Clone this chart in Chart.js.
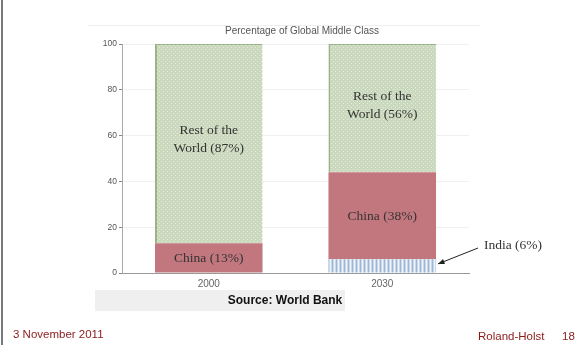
<!DOCTYPE html>
<html>
<head>
<meta charset="utf-8">
<script src="https://cdn.jsdelivr.net/npm/chart.js@4"></script>
<style>
  html, body { margin: 0; padding: 0; background: #fff; }
  #wrap { position: relative; width: 579px; height: 360px; }
</style>
</head>
<body>
<div id="wrap"><canvas id="chart" width="579" height="360"></canvas></div>
<script>
// donnees
const annees = ['2000', '2030'];
const inde = [0, 6];
const chine = [13, 38];
const resteMonde = [87, 56];
const etiquettesChine = ['China (13%)', 'China (38%)'];
const etiquettesReste = [['Rest of the', 'World (87%)'], ['Rest of the', 'World (56%)']];
const graduationsY = [0, 20, 40, 60, 80, 100];

// motifs de remplissage
function motifPoints() {
    const c = document.createElement('canvas');
    c.width = 4; c.height = 4;
    const g = c.getContext('2d');
    g.fillStyle = '#cad8bd';
    g.fillRect(0, 0, 4, 4);
    g.fillStyle = '#e4ecdc';
    g.fillRect(1, 1, 1, 1);
    g.fillRect(3, 3, 1, 1);
    return g.createPattern(c, 'repeat');
}
function motifRayures() {
    const c = document.createElement('canvas');
    c.width = 4; c.height = 4;
    const g = c.getContext('2d');
    g.fillStyle = '#c9d8ea';
    g.fillRect(0, 0, 4, 4);
    g.fillStyle = '#9fb6d2';
    g.fillRect(0, 0, 1, 4);
    g.fillStyle = '#eef3f9';
    g.fillRect(2, 0, 1, 4);
    return g.createPattern(c, 'repeat');
}

// textes et decor autour du graphique
const decor = {
    id: 'decor',
    beforeDraw(chart) {
        const ctx = chart.ctx;
        ctx.save();
        ctx.fillStyle = '#fff';
        ctx.fillRect(0, 0, 579, 360);
        // ligne verticale gauche
        ctx.fillStyle = '#7a7a7a';
        ctx.fillRect(1, 0, 2, 345);
        // cadre haut
        ctx.fillStyle = '#eeeeee';
        ctx.fillRect(88, 25, 392, 1);
        // bandeau source
        ctx.fillStyle = '#efefef';
        ctx.fillRect(95, 290, 250, 21);
        ctx.restore();
    },
    afterDatasetsDraw(chart) {
        const ctx = chart.ctx;
        ctx.save();
        ctx.textAlign = 'center';
        ctx.textBaseline = 'middle';
        ctx.fillStyle = '#555';
        ctx.font = '10px "Liberation Sans", Arial, sans-serif';
        ctx.fillText('Percentage of Global Middle Class', 302, 31);

        // etiquettes des barres
        ctx.fillStyle = '#333';
        ctx.font = '13.5px "Liberation Serif", "Times New Roman", serif';
        const mChine = chart.getDatasetMeta(1).data;
        const mReste = chart.getDatasetMeta(2).data;
        mChine.forEach((b, i) => {
            ctx.fillText(etiquettesChine[i], b.x, (b.y + b.base) / 2 + 1);
        });
        mReste.forEach((b, i) => {
            const cy = i === 0 ? 139 : 105;
            ctx.fillText(etiquettesReste[i][0], b.x, cy - 9);
            ctx.fillText(etiquettesReste[i][1], b.x, cy + 9);
        });

        // annotation Inde avec fleche
        const bInde = chart.getDatasetMeta(0).data[1];
        ctx.textAlign = 'left';
        ctx.font = '13.5px "Liberation Serif", "Times New Roman", serif';
        ctx.fillText('India (' + inde[1] + '%)', 484, 245);
        const x2 = bInde.x + bInde.width / 2 + 2, y2 = (bInde.y + bInde.base) / 2 - 2;
        const x1 = 478, y1 = 248;
        ctx.strokeStyle = '#222';
        ctx.lineWidth = 1;
        ctx.beginPath();
        ctx.moveTo(x1, y1);
        ctx.lineTo(x2, y2);
        ctx.stroke();
        const ang = Math.atan2(y2 - y1, x2 - x1);
        ctx.fillStyle = '#222';
        ctx.beginPath();
        ctx.moveTo(x2, y2);
        ctx.lineTo(x2 - 7 * Math.cos(ang - 0.4), y2 - 7 * Math.sin(ang - 0.4));
        ctx.lineTo(x2 - 7 * Math.cos(ang + 0.4), y2 - 7 * Math.sin(ang + 0.4));
        ctx.closePath();
        ctx.fill();

        // source
        ctx.textAlign = 'center';
        ctx.fillStyle = '#111';
        ctx.font = 'bold 12px "Liberation Sans", Arial, sans-serif';
        ctx.fillText('Source: World Bank', 285, 301);

        // pied de page
        ctx.fillStyle = '#8b1a1a';
        ctx.font = '11.5px "Liberation Sans", Arial, sans-serif';
        ctx.textAlign = 'left';
        ctx.fillText('3 November 2011', 13, 335);
        ctx.fillText('Roland-Holst', 478, 337);
        ctx.fillText('18', 562, 337);
        ctx.restore();
    }
};

const ctx = document.getElementById('chart').getContext('2d');
new Chart(ctx, {
    type: 'bar',
    data: {
        labels: annees,
        datasets: [
            { label: 'India', data: inde, backgroundColor: motifRayures(), borderWidth: 0 },
            { label: 'China', data: chine, backgroundColor: '#c2777f', borderWidth: 0 },
            { label: 'Rest of the World', data: resteMonde, backgroundColor: motifPoints(),
              borderColor: '#98b384', borderWidth: { left: 2, top: 1, right: 0, bottom: 1 } }
        ]
    },
    options: {
        responsive: false,
        animation: false,
        devicePixelRatio: 1,
        layout: { padding: { top: 44, right: 110, bottom: 0, left: 0 } },
        datasets: { bar: { categoryPercentage: 1, barPercentage: 0.62 } },
        plugins: {
            legend: { display: false },
            title: { display: false },
            tooltip: { enabled: false }
        },
        scales: {
            x: {
                stacked: true,
                afterFit: s => { s.height = 87; },
                grid: { display: false, drawTicks: false },
                border: { color: '#999', width: 1 },
                ticks: { color: '#666', padding: 5, font: { size: 10, family: 'Liberation Sans' } }
            },
            y: {
                stacked: true,
                min: 0,
                max: 100,
                afterFit: s => { s.width = 122; },
                afterBuildTicks: s => { s.ticks = graduationsY.map(v => ({ value: v })); },
                grid: { color: '#f0f0f0', tickColor: '#888', tickLength: 3 },
                border: { color: '#aaa', width: 1 },
                ticks: { color: '#555', padding: 2, font: { size: 8.5, family: 'Liberation Sans' } }
            }
        }
    },
    plugins: [decor]
});
</script>
</body>
</html>
